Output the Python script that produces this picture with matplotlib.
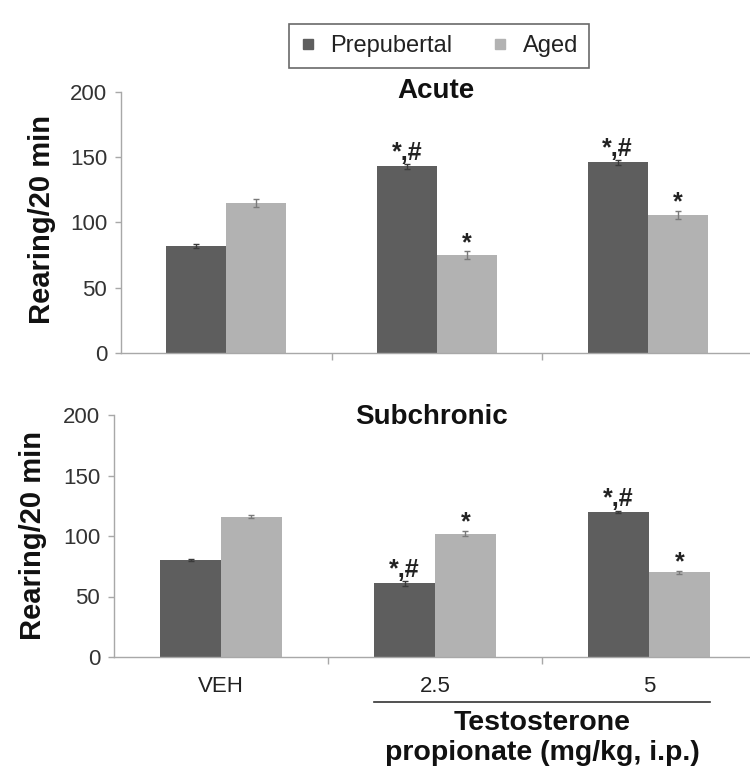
import matplotlib
matplotlib.use("Agg")
import matplotlib.pyplot as plt
import matplotlib.transforms as mtransforms
from matplotlib.lines import Line2D

plt.rcParams['font.family'] = ['Liberation Sans', 'DejaVu Sans']

# data
doses = ["VEH", "2.5", "5"]
groups = ["Prepubertal", "Aged"]

acute_prepub = [82, 143, 146]
acute_prepub_err = [1.5, 2, 2]
acute_aged = [115, 75, 106]
acute_aged_err = [3, 3, 3]
acute_prepub_sig = ["", "*,#", "*,#"]
acute_aged_sig = ["", "*", "*"]

sub_prepub = [80, 61, 120]
sub_prepub_err = [1, 2, 1]
sub_aged = [116, 102, 70]
sub_aged_err = [1, 2, 1]
sub_prepub_sig = ["", "*,#", "*,#"]
sub_aged_sig = ["", "*", "*"]

dark = "#5e5e5e"
light = "#b2b2b2"
axis_col = "#a8a8a8"
width = 0.285


def draw_panel(ax, prepub, prepub_err, aged, aged_err, sig_p, sig_a, title, title_y, xmax):
    x = list(range(len(doses)))
    xp = [i - width / 2 for i in x]
    xa = [i + width / 2 for i in x]
    ax.bar(xp, prepub, width, color=dark, zorder=2)
    ax.bar(xa, aged, width, color=light, zorder=2)
    ax.errorbar(xp, prepub, yerr=prepub_err, fmt="none", ecolor="#3a3a3a",
                elinewidth=1, capsize=2, zorder=3)
    ax.errorbar(xa, aged, yerr=aged_err, fmt="none", ecolor="#7a7a7a",
                elinewidth=1, capsize=2, zorder=3)

    for i in x:
        if sig_p[i]:
            ax.annotate(sig_p[i], (xp[i], prepub[i] + prepub_err[i]), xytext=(0, 3),
                        textcoords="offset points", ha="center", va="baseline",
                        fontsize=18, fontweight="bold", color="#222222")
        if sig_a[i]:
            ax.annotate(sig_a[i], (xa[i], aged[i] + aged_err[i]), xytext=(0, 1),
                        textcoords="offset points", ha="center", va="baseline",
                        fontsize=18, fontweight="bold", color="#222222")

    ax.set_xlim(-0.5, xmax)
    ax.set_ylim(0, 200)
    ax.set_yticks([0, 50, 100, 150, 200])
    ax.set_xticks(x)
    ax.set_xticks([0.5, 1.5], minor=True)
    ax.tick_params(axis="x", which="major", length=0, labelsize=16, pad=14,
                   labelcolor="#222222")
    ax.tick_params(axis="x", which="minor", length=5, color=axis_col, width=1)
    ax.tick_params(axis="y", length=4, color=axis_col, width=1, labelsize=16,
                   labelcolor="#333333", pad=6)
    for s in ["top", "right"]:
        ax.spines[s].set_visible(False)
    for s in ["left", "bottom"]:
        ax.spines[s].set_color(axis_col)
        ax.spines[s].set_linewidth(1)
    ax.text(0.5, title_y, title, transform=ax.transAxes, ha="center", va="baseline",
            fontsize=20, fontweight="bold", color="#111111")


fig = plt.figure(figsize=(7.5, 7.76), dpi=100)
ax1 = fig.add_axes([121 / 750, 1 - 353 / 776, 629 / 750, 261 / 776])
ax2 = fig.add_axes([114 / 750, 1 - 657 / 776, 636 / 750, 242 / 776])

draw_panel(ax1, acute_prepub, acute_prepub_err, acute_aged, acute_aged_err,
           acute_prepub_sig, acute_aged_sig, "Acute", 0.977, 2.486)
draw_panel(ax2, sub_prepub, sub_prepub_err, sub_aged, sub_aged_err,
           sub_prepub_sig, sub_aged_sig, "Subchronic", 0.963, 2.472)

ax1.set_xticklabels([])
ax2.set_xticklabels(doses)

fig.text(42 / 750, 1 - 220 / 776, "Rearing/20 min", rotation=90, ha="center",
         va="center", fontsize=21, fontweight="bold", color="#111111")
fig.text(33 / 750, 1 - 536 / 776, "Rearing/20 min", rotation=90, ha="center",
         va="center", fontsize=21, fontweight="bold", color="#111111")

# bracket under the testosterone doses
trans = mtransforms.blended_transform_factory(ax2.transData, ax2.transAxes)
ax2.plot([1 - width, 2 + width], [-0.186, -0.186], color="#333333", lw=1.2,
         transform=trans, clip_on=False)
ax2.text(1.5, -0.30, "Testosterone", transform=trans, ha="center", va="baseline",
         fontsize=20.5, fontweight="bold", color="#111111")
ax2.text(1.5, -0.425, "propionate (mg/kg, i.p.)", transform=trans, ha="center",
         va="baseline", fontsize=20.5, fontweight="bold", color="#111111")

handles = [Line2D([], [], ls="none", marker="s", markersize=7, color=dark),
           Line2D([], [], ls="none", marker="s", markersize=7, color=light)]
leg = fig.legend(handles, groups, loc="center", bbox_to_anchor=(0.585, 0.9407),
                 ncol=2, fontsize=17, frameon=True, fancybox=False,
                 edgecolor="#444444", handlelength=0.7, handletextpad=0.6,
                 columnspacing=1.7, borderpad=0.45)
leg.get_frame().set_linewidth(1.2)
for t in leg.get_texts():
    t.set_color("#222222")

fig.savefig("out.png", dpi=100)
